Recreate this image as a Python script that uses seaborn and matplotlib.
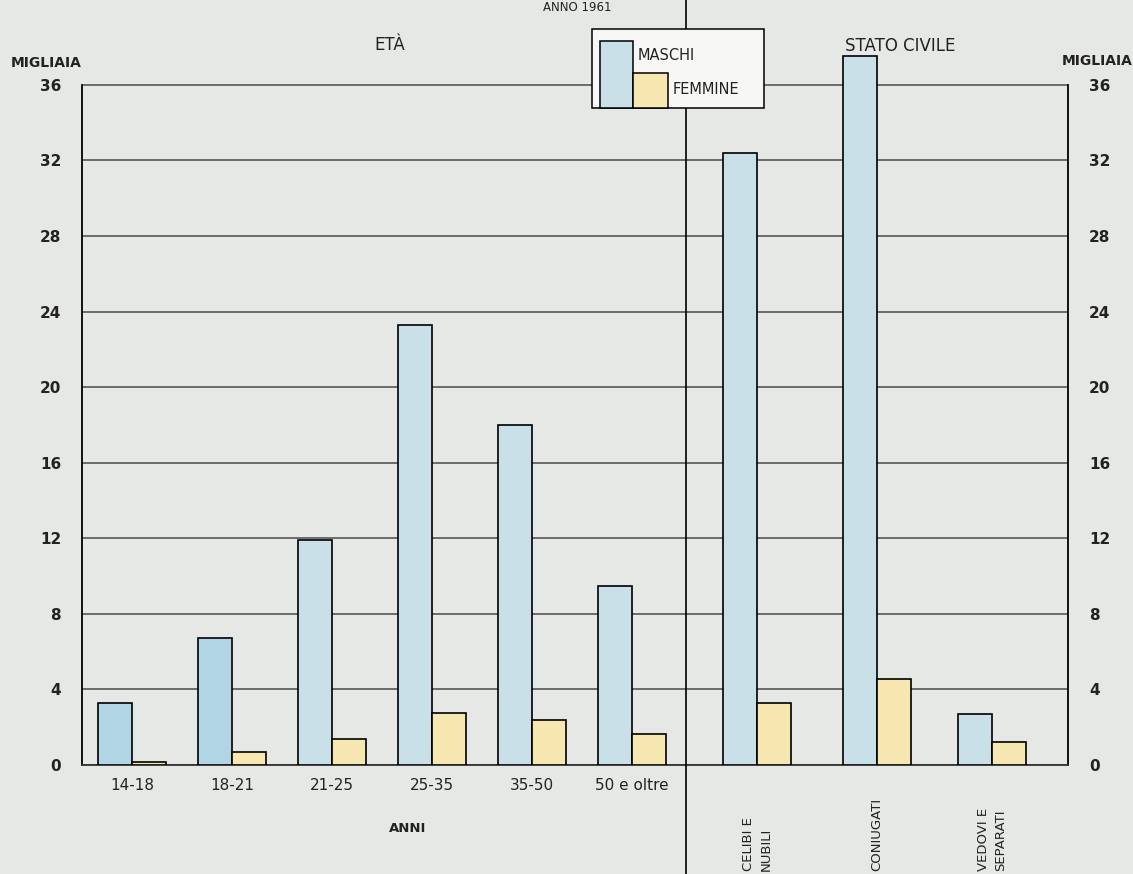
import numpy as np
import pandas as pd
import matplotlib
matplotlib.use("Agg")
from matplotlib import pyplot as plt
from matplotlib.patches import Rectangle
from matplotlib.lines import Line2D
from matplotlib import transforms
import seaborn as sns

# data (migliaia)
eta_labels = ["14-18", "18-21", "21-25", "25-35", "35-50", "50 e oltre"]
civile_labels = ["CELIBI E\nNUBILI", "CONIUGATI", "VEDOVI E\nSEPARATI"]
maschi = [3.3, 6.7, 11.9, 23.3, 18.0, 9.5, 32.4, 37.5, 2.7]
femmine = [0.15, 0.7, 1.35, 2.75, 2.4, 1.65, 3.3, 4.55, 1.2]

# layout: group centres (age groups, then civil status after a gap)
positions = [0, 1, 2, 3, 4, 5, 6.25, 7.45, 8.6]

BG = "#e6e8e5"
C_M = "#c9e0e8"
C_F = "#f6e7b0"

sns.set_theme(style="white")
plt.rcParams["font.family"] = ["DejaVu Sans"]

df = pd.DataFrame({
    "pos": positions * 2,
    "valore": maschi + femmine,
    "sesso": ["MASCHI"] * len(maschi) + ["FEMMINE"] * len(femmine),
})

W, H = 1133, 874
fig = plt.figure(figsize=(W / 100, H / 100), dpi=100, facecolor=BG)
ax = fig.add_axes([82 / W, 1 - 765 / H, 986 / W, 718 / H], facecolor=BG)

sns.barplot(data=df, x="pos", y="valore", hue="sesso", native_scale=True,
            width=0.68, palette={"MASCHI": C_M, "FEMMINE": C_F},
            hue_order=["MASCHI", "FEMMINE"], saturation=1,
            edgecolor="black", linewidth=1.2, legend=False, ax=ax, zorder=3)

# the first two male bars were coloured a little deeper in the original
for bar in ax.patches[:2]:
    bar.set_facecolor("#b2d5e5")

ax.set_xlim(-0.5, 9.36)
ax.set_ylim(0, 38)
ax.set_yticks(np.arange(0, 37, 4))
ax.yaxis.grid(True, color="#4a4a4a", linewidth=1.1)
ax.set_axisbelow(True)
ax.set_xlabel("")
ax.set_ylabel("")

ax.tick_params(axis="y", which="both", left=False, right=False,
               labelleft=True, labelright=True, labelsize=11, pad=9,
               labelcolor="#222222")
for lab in ax.get_yticklabels():
    lab.set_fontweight("bold")

ax.set_xticks(positions[:len(eta_labels)])
ax.set_xticklabels(eta_labels, fontsize=11, color="#222222")
ax.tick_params(axis="x", length=0, pad=9)

for side in ["left", "right"]:
    ax.spines[side].set_bounds(0, 36)
    ax.spines[side].set_color("black")
    ax.spines[side].set_linewidth(1.3)
ax.spines["top"].set_visible(False)
ax.spines["bottom"].set_color("#333333")
ax.spines["bottom"].set_linewidth(1.3)

# civil-status labels, vertical
trans = transforms.blended_transform_factory(ax.transData, ax.transAxes)
for p, lab in zip(positions[len(eta_labels):], civile_labels):
    ax.text(p, -0.147, lab, rotation=90, ha="center", va="bottom",
            fontsize=9.5, linespacing=1.5, transform=trans, color="#222222",
            multialignment="left")

# headings
fig.text(82 / W, 1 - 63 / H, "MIGLIAIA", ha="right", va="center",
         fontsize=10, fontweight="bold", color="#222222")
fig.text(1062 / W, 1 - 61 / H, "MIGLIAIA", ha="left", va="center",
         fontsize=10, fontweight="bold", color="#222222")
fig.text(390 / W, 1 - 45 / H, "ETÀ", ha="center", va="center",
         fontsize=12, color="#222222")
fig.text(900 / W, 1 - 46 / H, "STATO CIVILE", ha="center", va="center",
         fontsize=12, color="#222222")
fig.text(408 / W, 1 - 828 / H, "ANNI", ha="center", va="center",
         fontsize=9.5, fontweight="bold", color="#222222")
fig.text(577 / W, 1 - 1 / H, "ANNO 1961", ha="center", va="top",
         fontsize=8.5, color="#222222")

# divider between the two sections
fig.add_artist(Line2D([686 / W, 686 / W], [0, 1], color="black",
                      linewidth=1.2, transform=fig.transFigure, zorder=2))

# hand-drawn style legend box
fig.add_artist(Rectangle((592 / W, 1 - 108 / H), 172 / W, 79 / H,
                         transform=fig.transFigure, facecolor="#f7f8f6",
                         edgecolor="black", linewidth=1.1, zorder=5))
fig.add_artist(Rectangle((600 / W, 1 - 108 / H), 33 / W, 67 / H,
                         transform=fig.transFigure, facecolor=C_M,
                         edgecolor="black", linewidth=1.1, zorder=6))
fig.add_artist(Rectangle((633 / W, 1 - 108 / H), 35 / W, 35 / H,
                         transform=fig.transFigure, facecolor=C_F,
                         edgecolor="black", linewidth=1.1, zorder=6))
t1 = fig.text(638 / W, 1 - 56 / H, "MASCHI", ha="left", va="center",
              fontsize=10.5, color="#222222")
t2 = fig.text(673 / W, 1 - 90 / H, "FEMMINE", ha="left", va="center",
              fontsize=10.5, color="#222222")
t1.set_zorder(7)
t2.set_zorder(7)

fig.savefig("out.png", dpi=100, facecolor=BG)
